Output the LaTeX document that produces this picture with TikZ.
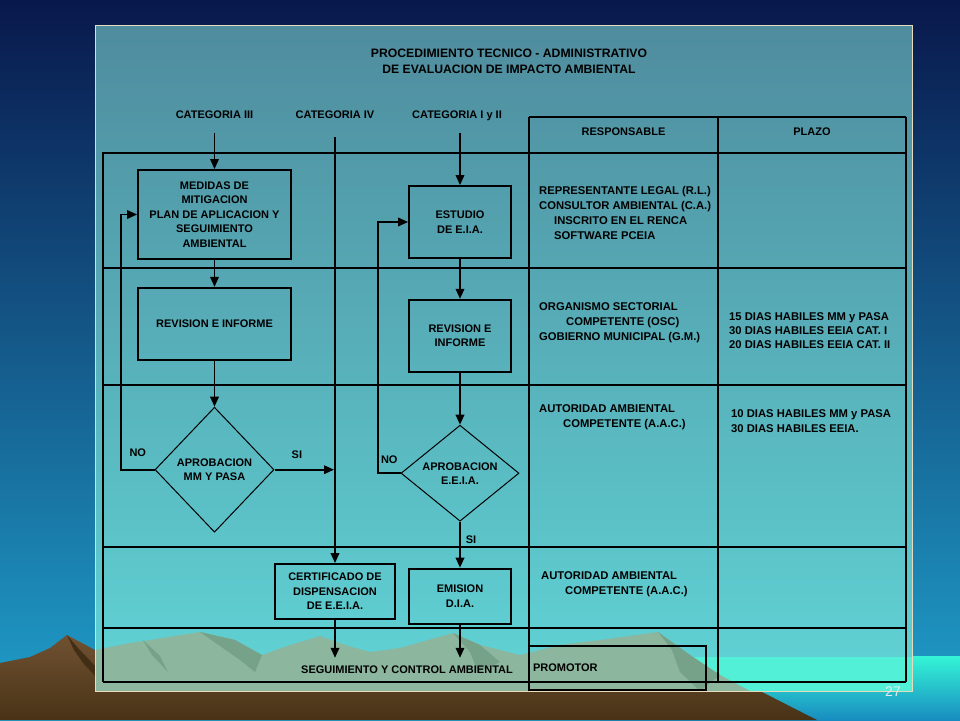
\documentclass[tikz,border=0pt]{standalone}
\usepackage{fontspec}
\setmainfont{Liberation Sans}
\usetikzlibrary{positioning,shapes.geometric,arrows.meta}
\definecolor{skytop}{RGB}{9,24,76}
\definecolor{skymid}{RGB}{27,76,166}
\definecolor{skylow}{RGB}{32,160,204}
\definecolor{seatop}{RGB}{52,245,214}
\definecolor{seabot}{RGB}{24,140,192}
\definecolor{earthtop}{RGB}{112,82,50}
\definecolor{earthbot}{RGB}{72,50,22}
\definecolor{earthdark}{RGB}{66,46,20}
\definecolor{paneltop}{RGB}{79,140,158}
\definecolor{panelmid}{RGB}{73,155,194}
\definecolor{panellow}{RGB}{96,212,214}
\definecolor{seaglow}{RGB}{82,240,214}
\definecolor{hill}{RGB}{140,182,158}
\definecolor{hilldark}{RGB}{118,162,138}
\definecolor{rim}{RGB}{232,220,190}
\definecolor{pagenum}{RGB}{222,238,245}
\begin{document}
\begin{tikzpicture}[x=1pt,y=-1pt,
    >={Triangle[length=10pt,width=8.5pt]},
    grid/.style={line width=1.8pt},
    flow/.style={->,line width=1.8pt},
    box/.style={draw,line width=1.8pt,align=center,inner sep=0pt,
      font=\fontsize{11}{14.5}\selectfont\bfseries},
    decision/.style={draw,diamond,aspect=1.3,line width=1pt,align=center,inner sep=0pt,
      font=\fontsize{11}{14}\selectfont\bfseries},
    lbl/.style={inner sep=0pt,text height=8pt,text depth=2pt,
      font=\fontsize{11}{13}\selectfont\bfseries},
    tag/.style={inner sep=0pt,text height=8pt,text depth=2pt,
      font=\fontsize{11}{13}\selectfont\bfseries},
    info/.style={anchor=north west,align=left,inner sep=0pt,
      font=\fontsize{11.25}{15}\selectfont\bfseries}]
  \useasboundingbox (0,0) rectangle (960,720);

  % background: sky, sea, ground
  \shade[top color=skytop,middle color=skymid,bottom color=skylow] (0,0) rectangle (960,720);
  \shade[top color=seatop,bottom color=seabot] (600,656) rectangle (960,720);
  \shade[top color=earthtop,bottom color=earthbot]
    (0,663) -- (30,657) -- (50,648) -- (67,635) -- (95,650) -- (95,691)
    -- (760,691) -- (817,720) -- (0,720) -- cycle;
  \fill[earthdark] (67,635) -- (78,648) -- (95,666) -- (95,676) -- (84,664) -- (74,650) -- cycle;

  % panel
  \shade[top color=paneltop,middle color=panelmid,bottom color=panellow] (95,25) rectangle (912,691);
  \begin{scope}
    \clip (95,25) rectangle (912,691);
    \fill[seaglow] (640,657) rectangle (912,691);
    \fill[hill] (95,650) -- (130,643) -- (150,640) -- (200,632) -- (235,640) -- (262,655)
      -- (290,645) -- (320,636) -- (345,645) -- (370,652) -- (400,648) -- (453,633)
      -- (480,645) -- (520,655) -- (560,645) -- (600,640) -- (658,632) -- (690,655)
      -- (720,675) -- (750,691) -- (95,691) -- cycle;
    \fill[hilldark] (200,632) -- (235,640) -- (262,655) -- (255,672) -- (240,660) -- cycle;
    \fill[hilldark] (453,633) -- (480,645) -- (500,662) -- (478,672) -- (470,652) -- cycle;
    \fill[hilldark] (658,632) -- (690,655) -- (720,675) -- (700,691) -- (680,672) -- (672,650) -- cycle;
    \fill[hilldark] (143,640) -- (160,656) -- (168,672) -- (152,655) -- cycle;
  \end{scope}
  \draw[rim,line width=0.8pt] (95,25) rectangle (912,691);

  % headings
  \node[align=center,inner sep=0pt,font=\fontsize{12.2}{16}\selectfont\bfseries] (title) at (509,61)
    {PROCEDIMIENTO TECNICO - ADMINISTRATIVO\\DE EVALUACION DE IMPACTO AMBIENTAL};
  \node[lbl] (cat3)  at (214.5,115) {CATEGORIA III};
  \node[lbl] (cat4)  at (335,115)   {CATEGORIA IV};
  \node[lbl] (cat12) at (457,115)   {CATEGORIA I y II};
  \node[lbl] (resp)  at (623.5,132) {RESPONSABLE};
  \node[lbl] (plazo) at (812,132)   {PLAZO};

  % table
  \draw[grid] (103,153) -- (906,153);
  \draw[grid] (529,117) -- (906,117);
  \foreach \y in {268,385,547,628,682}
    \draw[grid] (103,\y) -- (906,\y);
  \draw[grid] (103,152) -- (103,682);
  \draw[grid] (529,117) -- (529,691);
  \draw[grid] (718,117) -- (718,682);
  \draw[grid] (906,117) -- (906,682);

  % flow
  \node[box,minimum width=153pt,minimum height=89pt] (medidas) at (214.5,214.5)
    {MEDIDAS DE\\MITIGACION\\PLAN DE APLICACION Y\\SEGUIMIENTO\\AMBIENTAL};
  \node[box,minimum width=153pt,minimum height=72pt,below=27pt of medidas] (revL) {REVISION E INFORME};
  \node[decision,minimum width=119pt,minimum height=125pt,below=46pt of revL] (apL) {APROBACION\\MM Y PASA};
  \node[box,minimum width=102pt,minimum height=72pt] (estudio) at (460,222) {ESTUDIO\\DE E.I.A.};
  \node[box,minimum width=102pt,minimum height=72pt,below=40pt of estudio] (revR) {REVISION E\\INFORME};
  \node[decision,minimum width=118pt,minimum height=96pt,below=52pt of revR] (apR) {APROBACION\\E.E.I.A.};
  \node[box,minimum width=102pt,minimum height=55pt,below=46pt of apR] (emision) {EMISION\\D.I.A.};
  \node[box,minimum width=120pt,minimum height=55pt] (cert) at (335,591.5)
    {CERTIFICADO DE\\DISPENSACION\\DE E.E.I.A.};
  \node[lbl] (seg) at (407,670) {SEGUIMIENTO Y CONTROL AMBIENTAL};
  \node[draw,line width=1.8pt,minimum width=177pt,minimum height=44pt,text width=169pt,
    inner xsep=4pt,align=left,font=\fontsize{11}{13}\selectfont\bfseries] (prom) at (617.5,668) {PROMOTOR};
  \coordinate (backL) at (121,0);
  \coordinate (backR) at (378,0);

  \draw[flow,shorten <=13pt] (cat3) -- (medidas);
  \draw[flow,shorten <=13pt] (cat12.south -| estudio.north) -- (estudio.north);
  \draw[flow,shorten <=17pt] (cat4.south) -- (cert.north);
  \draw[flow] (medidas) -- (revL);
  \draw[flow] (revL) -- (apL);
  \draw[flow] (estudio) -- (revR);
  \draw[flow] (revR) -- (apR);
  \draw[flow] (apR) -- node[tag,right=5pt,pos=0.41] {SI} (emision);
  \draw[flow,shorten >=1pt] (apL.east) -- node[tag,above=8pt,pos=0.37] {SI} (apL.east -| cat4.south);
  \draw[flow] (apL.west) -- node[tag,above=10pt] {NO} (apL.west -| backL) |- (medidas.west);
  \draw[flow] (apR.west) -- node[tag,above=7pt] {NO} (apR.west -| backR) |- (estudio.west);
  \draw[flow,shorten >=7pt] (cert.south) -- (cert.south |- seg.north);
  \draw[flow,shorten >=7pt] (emision.south) -- (emision.south |- seg.north);

  % responsables and plazos
  \node[info] (resp1) at (539,186) {REPRESENTANTE LEGAL (R.L.)\\CONSULTOR AMBIENTAL (C.A.)\\
    \hspace*{15pt}INSCRITO EN EL RENCA\\\hspace*{15pt}SOFTWARE PCEIA};
  \node[info] (resp2) at (539,302) {ORGANISMO SECTORIAL\\\hspace*{27pt}COMPETENTE (OSC)\\
    GOBIERNO MUNICIPAL (G.M.)};
  \node[info] (resp3) at (539,404) {AUTORIDAD AMBIENTAL\\\hspace*{24pt}COMPETENTE (A.A.C.)};
  \node[info] (resp4) at (541,571) {AUTORIDAD AMBIENTAL\\\hspace*{24pt}COMPETENTE (A.A.C.)};
  \node[info,font=\fontsize{11.25}{14}\selectfont\bfseries] (plazo2) at (729,312)
    {15 DIAS HABILES MM y PASA\\30 DIAS HABILES EEIA CAT. I\\20 DIAS HABILES EEIA CAT. II};
  \node[info] (plazo3) at (731,409) {10 DIAS HABILES MM y PASA\\30 DIAS HABILES EEIA.};

  \node[text=pagenum,font=\fontsize{14}{16}\selectfont] (page) at (893,692) {27};
\end{tikzpicture}
\end{document}
